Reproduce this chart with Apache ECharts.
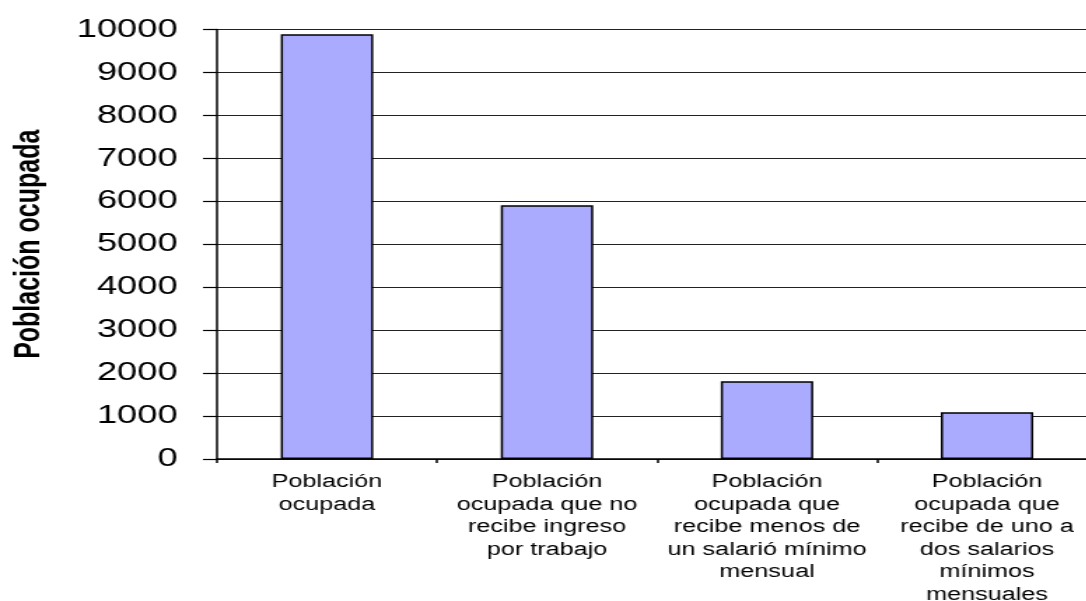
<!DOCTYPE html>
<html>
<head>
<meta charset="utf-8">
<script src="https://cdn.jsdelivr.net/npm/echarts@6/dist/echarts.min.js"></script>
<style>
  html, body { margin: 0; padding: 0; background: #fff; }
  #wrap { width: 1086px; height: 601px; overflow: hidden; }
  /* the reference picture is stretched sideways, so the chart is too */
  #main { width: 776px; height: 601px; transform: scaleX(1.4); transform-origin: 0 0; }
</style>
</head>
<body>
<div id="wrap"><div id="main"></div></div>
<script>
// data
const categories = [
  'Población\nocupada',
  'Población\nocupada que no\nrecibe ingreso\npor trabajo',
  'Población\nocupada que\nrecibe menos de\nun salarió mínimo\nmensual',
  'Población\nocupada que\nrecibe de uno a\ndos salarios\nmínimos\nmensuales'
]
const values = [9890, 5910, 1810, 1090]
const yMin = 0
const yMax = 10000
const yStep = 1000
const yTitle = 'Población ocupada'

const chart = echarts.init(document.getElementById('main'), null, { renderer: 'canvas' })

chart.setOption({
  animation: false,
  backgroundColor: '#fff',
  grid: {
    left: 155,
    top: 29.5,
    bottom: 142,
    width: 628.6,
    containLabel: false,
    outerBoundsMode: 'none'
  },
  xAxis: {
    type: 'category',
    data: categories,
    axisLine: {
      lineStyle: { color: '#000', width: 1.5 }
    },
    axisTick: {
      show: true,
      length: 4,
      lineStyle: { color: '#000', width: 1.5 }
    },
    axisLabel: {
      interval: 0,
      margin: 12,
      color: '#000',
      fontFamily: 'Liberation Sans, Arial, sans-serif',
      fontSize: 18,
      lineHeight: 22.5
    }
  },
  yAxis: {
    type: 'value',
    min: yMin,
    max: yMax,
    interval: yStep,
    name: yTitle,
    nameLocation: 'middle',
    nameGap: 121,
    nameMoveOverlap: false,
    nameRotate: 90,
    nameTextStyle: {
      color: '#000',
      fontFamily: 'Liberation Sans, Arial, sans-serif',
      fontWeight: 'bold',
      fontSize: 25
    },
    axisLine: {
      show: true,
      lineStyle: { color: '#000', width: 1.5 }
    },
    axisTick: {
      show: true,
      length: 10,
      lineStyle: { color: '#000', width: 1.2 }
    },
    axisLabel: {
      margin: 28,
      color: '#000',
      fontFamily: 'Liberation Sans, Arial, sans-serif',
      fontSize: 26,
      formatter: v => String(v)
    },
    splitLine: {
      lineStyle: { color: '#222', width: 1.2 }
    }
  },
  series: [
    {
      type: 'bar',
      data: values,
      barWidth: 66,
      itemStyle: {
        color: '#AAAAFF',
        borderColor: '#000',
        borderWidth: 1.5
      }
    }
  ]
})
</script>
</body>
</html>
